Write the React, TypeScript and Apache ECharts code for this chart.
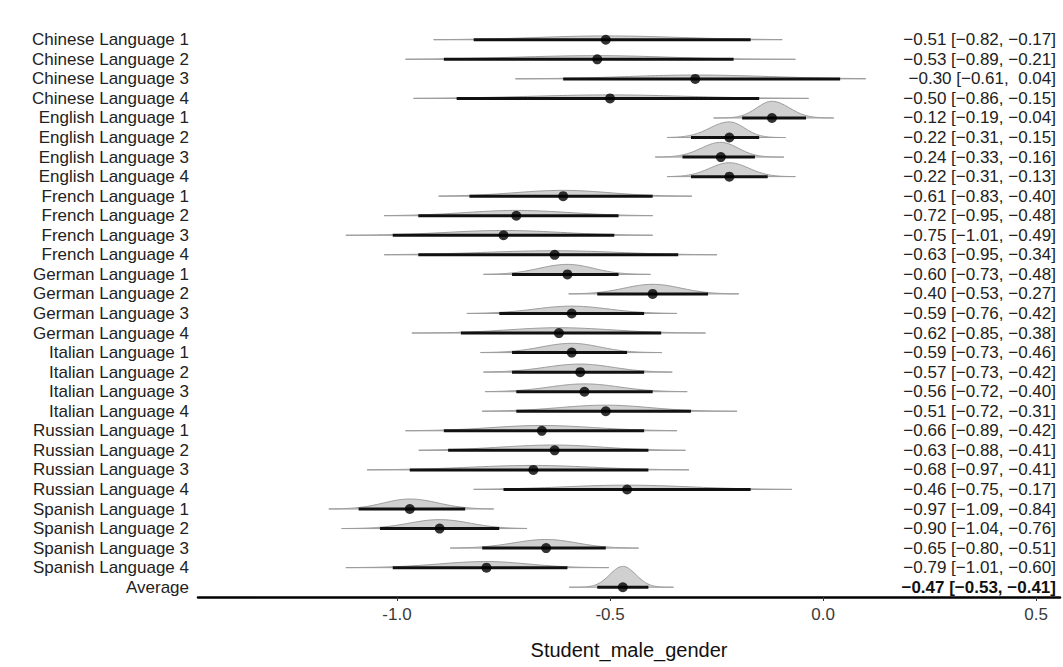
import React, { useEffect, useRef } from 'react';
import * as echarts from 'echarts';

const labels = [
  'Chinese Language 1', 'Chinese Language 2', 'Chinese Language 3', 'Chinese Language 4',
  'English Language 1', 'English Language 2', 'English Language 3', 'English Language 4',
  'French Language 1', 'French Language 2', 'French Language 3', 'French Language 4',
  'German Language 1', 'German Language 2', 'German Language 3', 'German Language 4',
  'Italian Language 1', 'Italian Language 2', 'Italian Language 3', 'Italian Language 4',
  'Russian Language 1', 'Russian Language 2', 'Russian Language 3', 'Russian Language 4',
  'Spanish Language 1', 'Spanish Language 2', 'Spanish Language 3', 'Spanish Language 4',
  'Average',
];

const means = [
  -0.51, -0.53, -0.30, -0.50,
  -0.12, -0.22, -0.24, -0.22,
  -0.61, -0.72, -0.75, -0.63,
  -0.60, -0.40, -0.59, -0.62,
  -0.59, -0.57, -0.56, -0.51,
  -0.66, -0.63, -0.68, -0.46,
  -0.97, -0.90, -0.65, -0.79,
  -0.47,
];

const ciLow = [
  -0.82, -0.89, -0.61, -0.86,
  -0.19, -0.31, -0.33, -0.31,
  -0.83, -0.95, -1.01, -0.95,
  -0.73, -0.53, -0.76, -0.85,
  -0.73, -0.73, -0.72, -0.72,
  -0.89, -0.88, -0.97, -0.75,
  -1.09, -1.04, -0.80, -1.01,
  -0.53,
];

const ciHigh = [
  -0.17, -0.21, 0.04, -0.15,
  -0.04, -0.15, -0.16, -0.13,
  -0.40, -0.48, -0.49, -0.34,
  -0.48, -0.27, -0.42, -0.38,
  -0.46, -0.42, -0.40, -0.31,
  -0.42, -0.41, -0.41, -0.17,
  -0.84, -0.76, -0.51, -0.60,
  -0.41,
];

// extent of each posterior density (thin grey line)
const tailLow = [
  -0.914, -0.98, -0.722, -0.961,
  -0.257, -0.366, -0.394, -0.366,
  -0.902, -1.03, -1.12, -1.03,
  -0.797, -0.597, -0.836, -0.965,
  -0.804, -0.797, -0.793, -0.80,
  -0.98, -0.949, -1.07, -0.82,
  -1.16, -1.13, -0.875, -1.12,
  -0.596,
];

const tailHigh = [
  -0.096, -0.065, 0.10, -0.034,
  0.025, -0.088, -0.092, -0.065,
  -0.308, -0.40, -0.40, -0.249,
  -0.405, -0.198, -0.343, -0.276,
  -0.378, -0.354, -0.319, -0.202,
  -0.343, -0.323, -0.315, -0.073,
  -0.773, -0.695, -0.433, -0.503,
  -0.351,
];

const xTicks = [-1.0, -0.5, 0.0, 0.5];
const xTitle = 'Student_male_gender';

const fmt = (v: number) =>
  v < 0 ? '\u2212' + Math.abs(v).toFixed(2) : '\u00a0' + v.toFixed(2);
const rightTexts = labels.map(
  (_, i) => `${fmt(means[i])} [${fmt(ciLow[i])}, ${fmt(ciHigh[i])}]`
);

const FONT = '"Liberation Sans", Arial, Helvetica, sans-serif';
const DENS_SCALE = 1.6;

export default function App() {
  const ref = useRef<HTMLDivElement>(null);

  useEffect(() => {
    if (!ref.current) return;
    const chart = echarts.init(ref.current, undefined, { renderer: 'svg' });
    const rowData = labels.map((_, i) => [means[i], i]);

    const option: any = {
      animation: false,
      backgroundColor: '#ffffff',
      grid: { left: 198, right: 3, top: 30, bottom: 70, containLabel: false },
      xAxis: {
        type: 'value',
        min: -1.467,
        max: 0.556,
        splitLine: { show: false },
        axisLine: { show: true, lineStyle: { color: '#000', width: 2.5 } },
        axisTick: {
          show: true,
          customValues: xTicks,
          length: 4,
          lineStyle: { color: '#333', width: 1 },
        },
        axisLabel: {
          customValues: xTicks,
          formatter: (v: number) => v.toFixed(1),
          fontSize: 17,
          color: '#3a3a3a',
          fontFamily: FONT,
          margin: 9,
        },
        name: xTitle,
        nameLocation: 'middle',
        nameGap: 43,
        nameTextStyle: { fontSize: 20, color: '#111', fontFamily: FONT },
      },
      yAxis: [
        {
          type: 'category',
          data: labels,
          inverse: true,
          axisLine: { show: false },
          axisTick: { show: false },
          splitLine: { show: false },
          axisLabel: {
            fontSize: 17,
            color: '#222',
            fontFamily: FONT,
            margin: 9,
            interval: 0,
          },
        },
        {
          type: 'category',
          data: labels,
          inverse: true,
          position: 'right',
          axisLine: { show: false },
          axisTick: { show: false },
          splitLine: { show: false },
          axisLabel: {
            inside: true,
            margin: 4,
            interval: 0,
            fontSize: 17,
            color: '#222',
            fontFamily: FONT,
            formatter: (_v: string, idx: number) =>
              idx === labels.length - 1 ? `{b|${rightTexts[idx]}}` : rightTexts[idx],
            rich: {
              b: { fontSize: 17, fontWeight: 'bold', color: '#111', fontFamily: FONT },
            },
          },
        },
      ],
      series: [
        {
          type: 'custom',
          name: 'density',
          data: rowData,
          yAxisIndex: 0,
          renderItem: (params: any, api: any) => {
            const i = params.dataIndex;
            const m = means[i];
            const sdL = (m - ciLow[i]) / 1.96;
            const sdR = (ciHigh[i] - m) / 1.96;
            const peak = 1 / (((sdL + sdR) / 2) * Math.sqrt(2 * Math.PI));
            const y0 = api.coord([m, i])[1];
            const pts: number[][] = [];
            const n = 90;
            for (let k = 0; k <= n; k++) {
              const x = tailLow[i] + ((tailHigh[i] - tailLow[i]) * k) / n;
              const sd = x < m ? sdL : sdR;
              const d = peak * Math.exp(-0.5 * ((x - m) / sd) ** 2);
              pts.push([api.coord([x, i])[0], y0 - DENS_SCALE * d]);
            }
            pts.push([api.coord([tailHigh[i], i])[0], y0]);
            pts.push([api.coord([tailLow[i], i])[0], y0]);
            return {
              type: 'polygon',
              shape: { points: pts },
              style: { fill: '#d0d0d0', stroke: '#9c9c9c', lineWidth: 1 },
            };
          },
          silent: true,
          z: 1,
        },
        {
          type: 'custom',
          name: 'ci',
          data: rowData,
          yAxisIndex: 0,
          renderItem: (params: any, api: any) => {
            const i = params.dataIndex;
            const p1 = api.coord([ciLow[i], i]);
            const p2 = api.coord([ciHigh[i], i]);
            return {
              type: 'line',
              shape: { x1: p1[0], y1: p1[1], x2: p2[0], y2: p2[1] },
              style: { stroke: '#111', lineWidth: 3, lineCap: 'butt' },
            };
          },
          silent: true,
          z: 2,
        },
        {
          type: 'scatter',
          name: 'mean',
          data: rowData,
          yAxisIndex: 0,
          symbol: 'circle',
          symbolSize: 10,
          itemStyle: { color: '#000' },
          silent: true,
          z: 3,
        },
      ],
    };

    chart.setOption(option);
    return () => chart.dispose();
  }, []);

  return (
    <div
      ref={ref}
      style={{
        position: 'fixed',
        left: 0,
        top: 0,
        width: 1063,
        height: 667,
        background: '#fff',
      }}
    />
  );
}
